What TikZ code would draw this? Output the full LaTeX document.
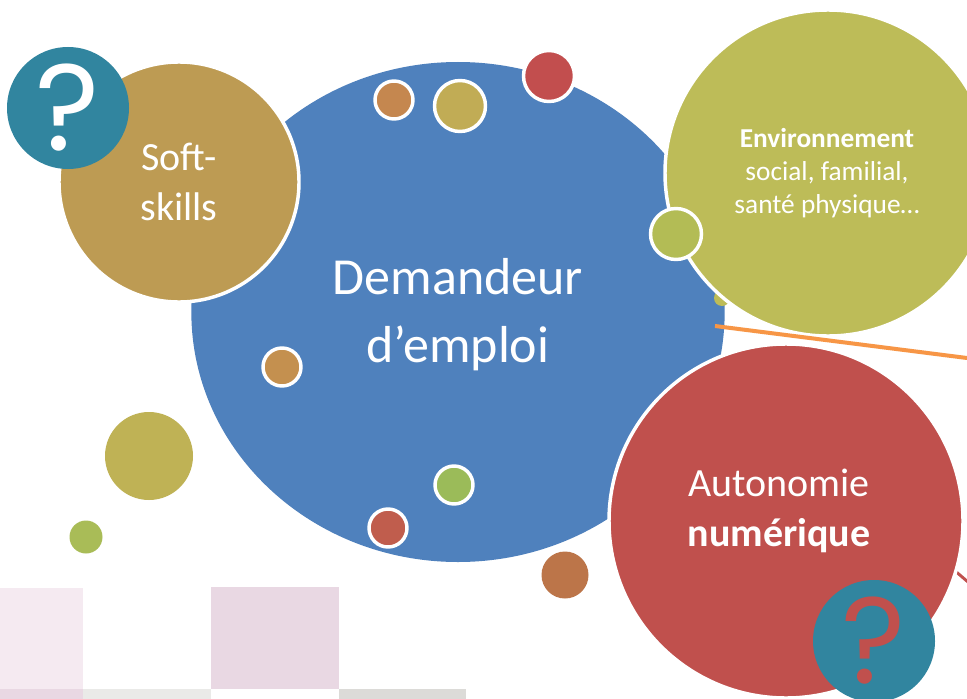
\documentclass[tikz,border=0pt]{standalone}
\usepackage{fontspec}
\setmainfont{Carlito}
\newfontfamily\qfont{Poppins}
\usetikzlibrary{shapes.geometric}
\definecolor{cblue}{HTML}{4F81BD}
\definecolor{cgold}{HTML}{BD9B53}
\definecolor{cenv}{HTML}{BDBC58}
\definecolor{cred}{HTML}{C0504D}
\definecolor{cteal}{HTML}{31859F}
\tikzset{
  x=0.75pt,y=-0.75pt,
  disc/.style={circle,inner sep=0pt,outer sep=0pt,minimum size=#1*1.5pt},
  ring/.style={draw=white,line width=2.6pt},
  label/.style={text=white,align=center,inner sep=0pt},
  big/.style={font=\fontsize{39}{48}\selectfont},
  mid/.style={font=\fontsize{30}{37}\selectfont},
  small/.style={font=\fontsize{20.5}{25}\selectfont},
  qmark/.style={text=#1,inner sep=0pt,font=\qfont\fontsize{92}{92}\selectfont},
}
\begin{document}
\begin{tikzpicture}
\useasboundingbox (0,0) rectangle (967,699);
\clip (0,0) rectangle (967,699);
% background squares
\fill[fill=white] (0,0) rectangle (967,699);
\fill[fill={rgb,255:red,245;green,234;blue,241}] (0,588) rectangle (83,689);
\fill[fill={rgb,255:red,233;green,216;blue,227}] (0,689) rectangle (83,699);
\fill[fill={rgb,255:red,234;green,234;blue,232}] (83,689) rectangle (211,699);
\fill[fill={rgb,255:red,233;green,216;blue,227}] (211,587) rectangle (339,689);
\fill[fill={rgb,255:red,220;green,219;blue,216}] (339,689) rectangle (466,699);
% free dots
\node[disc=44,fill={rgb,255:red,191;green,178;blue,85}] (dotA) at (149,456) {};
\node[disc=16.5,fill={rgb,255:red,169;green,188;blue,87}] (dotB) at (86,537) {};
\node[disc=23.5,fill={rgb,255:red,188;green,117;blue,73}] (dotC) at (565,575) {};
% main bubbles
\node[ellipse,inner sep=0pt,outer sep=0pt,minimum width=400pt,minimum height=375pt,fill=cblue] (demandeur) at (458,312) {};
\node[disc=120,fill=cgold,ring] (soft) at (179,182) {};
\node[disc=8,fill=cenv] (bump) at (722,298) {};
\node[disc=163,fill=cenv,ring] (env) at (828,173) {};
\coordinate (orangeA) at (715,326);
\coordinate (orangeB) at (967,358);
\draw[line width=3pt,draw={rgb,255:red,247;green,150;blue,70}] (orangeA) -- (orangeB);
\coordinate (redA) at (940,558);
\coordinate (redB) at (975,588);
\draw[line width=2.2pt,draw=cred] (redA) -- (redB);
\node[disc=177,fill=cred,ring] (auto) at (786,521) {};
% small ringed dots
\node[disc=19,ring,fill={rgb,255:red,197;green,135;blue,79}] (d1) at (394,100) {};
\node[disc=25.5,ring,fill={rgb,255:red,193;green,172;blue,85}] (d2) at (460,106) {};
\node[disc=25.5,ring,fill={rgb,255:red,194;green,78;blue,78}] (d3) at (549,76) {};
\node[disc=25.5,ring,fill={rgb,255:red,179;green,188;blue,85}] (d4) at (676,234) {};
\node[disc=19,ring,fill={rgb,255:red,196;green,144;blue,79}] (d5) at (282,367) {};
\node[disc=19,ring,fill={rgb,255:red,155;green,187;blue,89}] (d6) at (454,485) {};
\node[disc=19,ring,fill={rgb,255:red,192;green,93;blue,77}] (d7) at (388,528) {};
% labels
\node[label,big] (tDem) at (458,315) {Demandeur\\[3pt]d’emploi};
\node[label,mid] (tSoft) at (179,182) {Soft-\\skills};
\node[label,small] (tEnv) at (827,173) {\textbf{Environnement}\\social, familial,\\santé physique…};
\node[label,mid] (tAuto) at (779,511) {Autonomie\\\textbf{numérique}};
% question marks
\node[disc=61,fill=cteal] (q1) at (68,108) {};
\node[qmark=white] (q1t) at (68,108) {?};
\node[disc=61,fill=cteal] (q2) at (874,641) {};
\node[qmark=cred] (q2t) at (874,641) {?};
\end{tikzpicture}
\end{document}
